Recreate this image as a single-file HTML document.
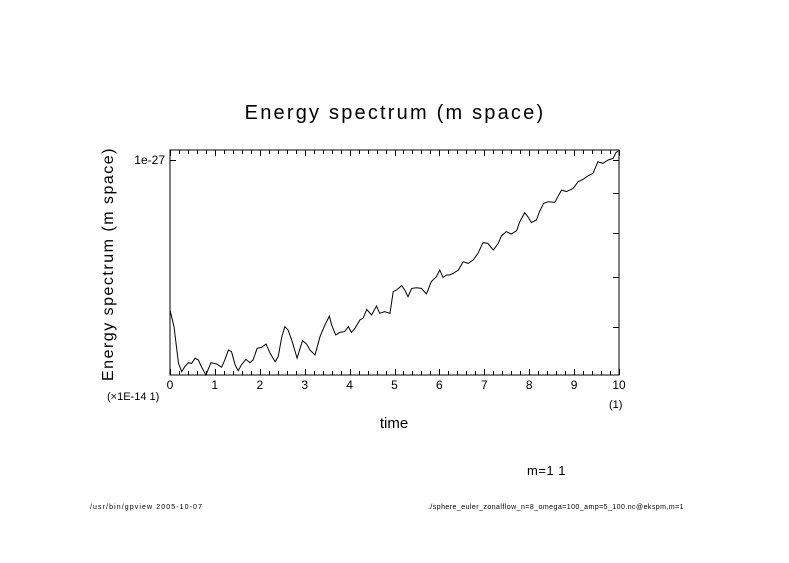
<!DOCTYPE html>
<html><head><meta charset="utf-8"><style>
html,body{margin:0;padding:0;background:#fff;}
svg text{font-family:"Liberation Sans",sans-serif;fill:#000;}
</style></head><body>
<svg id="chart" width="789" height="558" viewBox="0 0 789 558" xmlns="http://www.w3.org/2000/svg">
<rect width="789" height="558" fill="#fff"/>
<text x="395" y="119" font-size="20" text-anchor="middle" letter-spacing="2.2">Energy spectrum (m space)</text>
<text transform="translate(113,264) rotate(-90)" font-size="16" text-anchor="middle" letter-spacing="1.5">Energy spectrum (m space)</text>
<text x="394" y="428" font-size="15" text-anchor="middle">time</text>
<text x="107" y="400" font-size="11">(×1E-14 1)</text>
<text x="609" y="408" font-size="11">(1)</text>
<text x="527" y="475" font-size="13" letter-spacing="0.5">m=1 1</text>
<text x="90" y="509" font-size="7" letter-spacing="1.1">/usr/bin/gpview  2005-10-07</text>
<text x="428" y="509" font-size="7" letter-spacing="0.45">./sphere_euler_zonalflow_n=8_omega=100_amp=5_100.nc@ekspm,m=1</text>
<rect x="170" y="150" width="449" height="225" fill="none" stroke="#000" stroke-width="1"/>
<g id="axes"></g>
<path id="series" fill="none" stroke="#000" stroke-width="1"/>
</svg>
<script>
const times=[0,.09,.19,.26,.33,.41,.48,.56,.63,.70,.80,.91,1.04,1.15,1.22,1.30,1.37,1.45,1.52,1.59,1.69,1.78,1.85,1.94,2.04,2.14,2.23,2.34,2.41,2.49,2.56,2.63,2.71,2.83,2.95,3.04,3.12,3.23,3.34,3.45,3.55,3.60,3.69,3.78,3.89,3.97,4.04,4.12,4.23,4.30,4.38,4.49,4.60,4.67,4.78,4.90,4.97,5.04,5.16,5.23,5.30,5.38,5.49,5.60,5.71,5.82,5.93,6.01,6.08,6.16,6.23,6.31,6.42,6.53,6.64,6.75,6.86,6.97,7.08,7.20,7.31,7.38,7.49,7.60,7.72,7.79,7.90,7.97,8.05,8.16,8.23,8.32,8.42,8.57,8.72,8.83,8.98,9.09,9.20,9.31,9.42,9.53,9.64,9.76,9.87,9.93,9.98];
const energy=[.302,.225,.054,.016,.039,.057,.054,.078,.070,.039,0,.057,.051,.036,.070,.116,.109,.047,.020,.047,.073,.057,.070,.124,.129,.144,.101,.062,.085,.178,.225,.209,.163,.078,.160,.144,.116,.093,.178,.233,.274,.233,.186,.198,.202,.225,.198,.217,.256,.264,.305,.279,.321,.287,.295,.287,.388,.395,.416,.395,.364,.403,.406,.403,.377,.434,.457,.488,.454,.465,.465,.473,.488,.527,.519,.535,.566,.616,.612,.581,.612,.647,.667,.656,.671,.713,.755,.736,.709,.721,.760,.798,.806,.803,.860,.853,.868,.899,.910,.926,.938,.992,.984,1.0,1.008,1.034,1.042];
const xTickLabels=["0","1","2","3","4","5","6","7","8","9","10"];
const yMajorTicks=[1.0,0.845,0.659,0.457,0.225];
const yTickLabels=["1e-27"];
const X0=170,X1=619,Y0=375,Y1=160;
function xs(t){return X0+(X1-X0)*t/10;}
function ys(v){return Y0-(Y0-Y1)*v;}
const NS="http://www.w3.org/2000/svg";
const axes=document.getElementById('axes');
function line(x1,y1,x2,y2,name){const l=document.createElementNS(NS,'line');l.setAttribute('x1',x1);l.setAttribute('y1',y1);l.setAttribute('x2',x2);l.setAttribute('y2',y2);l.setAttribute('stroke','#000');l.setAttribute('stroke-width','1');


axes.appendChild(l);}
for(let i=0;i<=50;i++){const t=i*0.2;const x=Math.round(xs(t))+0.5;const len=(i%5===0)?6:4;line(x,375,x,375-len,'x-tick');line(x,150,x,150+len,'x-tick-top');}
xTickLabels.forEach((s,i)=>{const tx=document.createElementNS(NS,'text');tx.setAttribute('x',xs(+s));tx.setAttribute('y',389);tx.setAttribute('font-size','12');tx.setAttribute('text-anchor','middle');tx.textContent=s;


axes.appendChild(tx);});
yMajorTicks.forEach(v=>{const y=Math.round(ys(v))+0.5;line(619,y,613,y,'y-tick-right');});
line(170,Math.round(ys(1))+0.5,176,Math.round(ys(1))+0.5,'y-tick-left');
yTickLabels.forEach(s=>{const tx=document.createElementNS(NS,'text');tx.setAttribute('x',165);tx.setAttribute('y',ys(1)+4);tx.setAttribute('font-size','12');tx.setAttribute('text-anchor','end');tx.textContent=s;


axes.appendChild(tx);});
document.getElementById('series').setAttribute('d',times.map((t,i)=>(i?'L':'M')+xs(t).toFixed(1)+' '+ys(energy[i]).toFixed(1)).join(' '));
</script>
</body></html>
